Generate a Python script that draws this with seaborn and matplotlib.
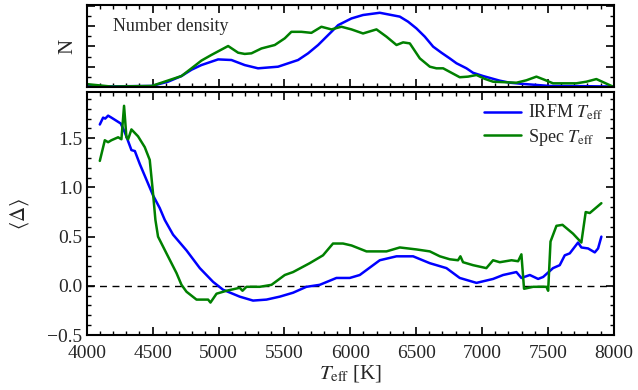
import numpy as np
import pandas as pd
import matplotlib
matplotlib.use("Agg")
import matplotlib.pyplot as plt
from matplotlib.ticker import MultipleLocator, NullFormatter
import seaborn as sns

# ---- top panel: number density ----
top_irfm_T = [3985, 4187, 4493, 4617, 4719, 4795, 4870, 4997, 5098, 5199, 5300, 5452, 5604, 5680,
              5756, 5832, 5908, 6009, 6097, 6224, 6376, 6439, 6502, 6566, 6629, 6692, 6755, 6806,
              6882, 6932, 7008, 7135, 7211, 7312, 7514, 7766, 7993]
top_irfm_N = [0.05, 0.03, 0.05, 0.26, 0.54, 0.85, 1.08, 1.36, 1.33, 1.08, 0.92, 1.00, 1.33, 1.66,
              2.07, 2.56, 3.05, 3.38, 3.55, 3.66, 3.47, 3.22, 2.89, 2.48, 1.99, 1.69, 1.41, 1.17,
              0.92, 0.70, 0.54, 0.31, 0.21, 0.15, 0.05, 0.04, 0.02]
top_spec_T = [3985, 4187, 4493, 4719, 4795, 4870, 4946, 5073, 5149, 5199, 5250, 5326, 5427, 5503,
              5553, 5629, 5705, 5781, 5857, 5933, 6009, 6097, 6199, 6275, 6351, 6401, 6452, 6528,
              6604, 6654, 6705, 6768, 6831, 6894, 6958, 7021, 7084, 7261, 7337, 7413, 7476, 7539,
              7716, 7792, 7868, 7993]
top_spec_N = [0.15, 0.02, 0.05, 0.54, 0.92, 1.30, 1.58, 2.02, 1.69, 1.63, 1.66, 1.90, 2.07, 2.40,
              2.72, 2.72, 2.67, 2.97, 2.84, 2.97, 2.84, 2.64, 2.84, 2.48, 2.07, 2.20, 2.15, 1.41,
              1.00, 0.92, 0.92, 0.70, 0.48, 0.51, 0.59, 0.40, 0.26, 0.21, 0.33, 0.51, 0.35, 0.18,
              0.18, 0.26, 0.39, 0.02]

# ---- bottom panel: mean Delta ----
irfm_T = [4099, 4124, 4140, 4162, 4187, 4258, 4289, 4339, 4365, 4402, 4465, 4503, 4554, 4592,
          4655, 4757, 4858, 4959, 5035, 5161, 5262, 5364, 5465, 5566, 5667, 5768, 5895, 5996,
          6072, 6224, 6351, 6477, 6604, 6730, 6831, 6958, 7084, 7160, 7261, 7299, 7363, 7426,
          7464, 7539, 7590, 7628, 7666, 7729, 7754, 7805, 7856, 7881, 7906]
irfm_D = [1.64, 1.71, 1.70, 1.73, 1.71, 1.65, 1.56, 1.38, 1.37, 1.24, 1.04, 0.92, 0.79, 0.67,
          0.52, 0.36, 0.18, 0.04, -0.04, -0.11, -0.15, -0.14, -0.11, -0.07, -0.01, 0.01, 0.08, 0.08,
          0.11, 0.26, 0.30, 0.30, 0.23, 0.18, 0.08, 0.03, 0.07, 0.11, 0.14, 0.08, 0.11, 0.07,
          0.09, 0.18, 0.21, 0.31, 0.33, 0.44, 0.39, 0.38, 0.34, 0.38, 0.50]
spec_T = [4099, 4137, 4162, 4187, 4238, 4263, 4283, 4301, 4314, 4339, 4389, 4440, 4478, 4503,
          4521, 4541, 4605, 4681, 4719, 4757, 4833, 4921, 4939, 4985, 5061, 5161, 5182, 5212,
          5313, 5402, 5503, 5566, 5692, 5793, 5869, 5945, 6010, 6123, 6275, 6376, 6502, 6604,
          6680, 6755, 6818, 6836, 6856, 6932, 7033, 7084, 7135, 7224, 7274, 7299, 7319, 7388,
          7489, 7502, 7520, 7565, 7611, 7691, 7754, 7787, 7818, 7906]
spec_D = [1.27, 1.48, 1.46, 1.48, 1.51, 1.49, 1.83, 1.51, 1.49, 1.59, 1.52, 1.41, 1.28, 0.94,
          0.67, 0.50, 0.33, 0.13, 0.01, -0.06, -0.14, -0.14, -0.17, -0.08, -0.05, -0.02, -0.05, -0.01,
          -0.01, 0.01, 0.11, 0.14, 0.23, 0.31, 0.43, 0.43, 0.41, 0.35, 0.35, 0.39, 0.37, 0.35,
          0.30, 0.27, 0.26, 0.30, 0.24, 0.21, 0.18, 0.26, 0.24, 0.26, 0.25, 0.32, -0.03, -0.01,
          -0.01, -0.05, 0.45, 0.61, 0.62, 0.53, 0.44, 0.75, 0.74, 0.84]

x_ticks = [4000, 4500, 5000, 5500, 6000, 6500, 7000, 7500, 8000]
y_ticks = [-0.5, 0.0, 0.5, 1.0, 1.5]
y_ticklabels = ["\u22120.5", "0.0", "0.5", "1.0", "1.5"]
labels = ["IRFM $T_{\\rm eff}$", "Spec $T_{\\rm eff}$"]
BLUE, GREEN = "#0000ff", "#008000"

sns.set_style("ticks")
plt.rcParams["font.family"] = ["Liberation Serif", "DejaVu Serif"]
plt.rcParams["mathtext.fontset"] = "stix"
plt.rcParams["font.size"] = 14

fig = plt.figure(figsize=(6.38, 3.90), dpi=100)
ax1 = fig.add_axes([0.136, 0.777, 0.826, 0.210])
ax2 = fig.add_axes([0.136, 0.141, 0.826, 0.623])

sns.lineplot(x=top_irfm_T, y=top_irfm_N, ax=ax1, color=BLUE, lw=1.8,
             estimator=None, sort=False)
sns.lineplot(x=top_spec_T, y=top_spec_N, ax=ax1, color=GREEN, lw=1.8,
             estimator=None, sort=False)
ax1.set_xlim(4000, 8000)
ax1.set_ylim(0, 4.04)
ax1.yaxis.set_major_locator(MultipleLocator(1))
ax1.yaxis.set_minor_locator(MultipleLocator(0.5))
ax1.xaxis.set_major_locator(MultipleLocator(500))
ax1.xaxis.set_minor_locator(MultipleLocator(100))
ax1.xaxis.set_major_formatter(NullFormatter())
ax1.yaxis.set_major_formatter(NullFormatter())
ax1.set_ylabel("N", fontsize=15, labelpad=3)
ax1.text(0.05, 0.74, "Number density", transform=ax1.transAxes, fontsize=13,
         va="center", ha="left")

sns.lineplot(x=irfm_T, y=irfm_D, ax=ax2, color=BLUE, lw=1.8,
             estimator=None, sort=False, label=labels[0])
sns.lineplot(x=spec_T, y=spec_D, ax=ax2, color=GREEN, lw=1.8,
             estimator=None, sort=False, label=labels[1])
ax2.axhline(0, color="black", ls=(0, (5, 4)), lw=1.0, zorder=0)
ax2.set_xlim(4000, 8000)
ax2.set_ylim(-0.5, 1.97)
ax2.set_xticks(x_ticks)
ax2.set_yticks(y_ticks)
ax2.set_yticklabels(y_ticklabels)
ax2.xaxis.set_minor_locator(MultipleLocator(100))
ax2.yaxis.set_minor_locator(MultipleLocator(0.1))
ax2.set_xlabel("$T_{\\rm eff}$ [K]", fontsize=15, labelpad=1)
ax2.set_ylabel("$\\langle\\Delta\\rangle$", fontsize=15, labelpad=12)
leg = ax2.legend(loc="upper right", frameon=False, fontsize=13, handlelength=2.0,
                 handletextpad=0.4, borderaxespad=0.2, labelspacing=0.25)

for ax in (ax1, ax2):
    for s in ax.spines.values():
        s.set_linewidth(1.5)
        s.set_color("black")
    ax.tick_params(which="both", direction="in", top=True, right=True, color="black")
    ax.tick_params(which="major", length=6, width=1.2, labelsize=14)
    ax.tick_params(which="minor", length=3, width=1.0)
ax2.tick_params(axis="x", which="major", pad=7)
ax2.tick_params(axis="y", which="major", pad=3)

fig.savefig("out.png", dpi=100)
